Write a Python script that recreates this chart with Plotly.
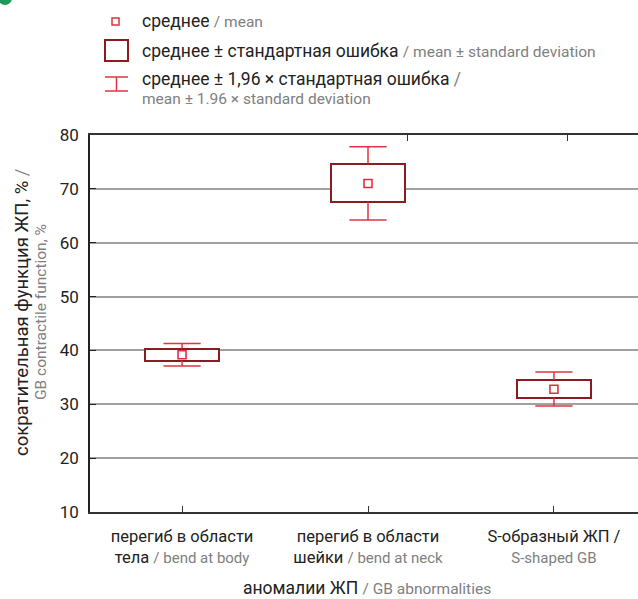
import plotly.graph_objects as go

# ---- data ----
categories = ["тела", "шейки", "S"]
tick_line1 = ["перегиб в области", "перегиб в области", "S-образный ЖП /"]
tick_line2_ru = ["тела", "шейки", ""]
tick_line2_en = ["/ bend at body", "/ bend at neck", "S-shaped GB"]
means = [39.2, 71.0, 32.8]
se_low = [38.1, 67.6, 31.2]
se_high = [40.3, 74.6, 34.5]
ci_low = [37.1, 64.2, 29.7]
ci_high = [41.3, 77.8, 36.0]

BOX_C = "#8c1a20"
WH_C = "#e0333f"
DARK = "#222222"
GRAY = "#808080"
FONT = "Roboto"

W, H = 638, 599
ML, MR, MT, MB = 90, 0, 135, 87
PW = W - ML - MR
PH = H - MT - MB


def px(x):
    return (x - ML) / PW


def py(y):
    return (H - MB - y) / PH


xs = list(range(len(categories)))
box_w = 0.4
cap_w = 0.2

fig = go.Figure()

# boxes: mean ± SE
fig.add_trace(go.Bar(
    x=xs, base=se_low, y=[h - l for h, l in zip(se_high, se_low)],
    width=box_w, marker=dict(color="white", line=dict(color=BOX_C, width=2)),
    hoverinfo="skip", showlegend=False))

# whiskers: mean ± 1.96 SE
wx, wy = [], []
for i, x in enumerate(xs):
    wx += [x, x, None, x - cap_w / 2, x + cap_w / 2, None]
    wy += [se_high[i], ci_high[i], None, ci_high[i], ci_high[i], None]
    wx += [x, x, None, x - cap_w / 2, x + cap_w / 2, None]
    wy += [se_low[i], ci_low[i], None, ci_low[i], ci_low[i], None]
fig.add_trace(go.Scatter(x=wx, y=wy, mode="lines", line=dict(color=WH_C, width=1.5),
                         hoverinfo="skip", showlegend=False))

# means
fig.add_trace(go.Scatter(x=xs, y=means, mode="markers",
                         marker=dict(symbol="square-open", size=8, color=WH_C,
                                     line=dict(width=1.6, color=WH_C)),
                         showlegend=False))

ticktext = []
for a, b, c in zip(tick_line1, tick_line2_ru, tick_line2_en):
    second = (b + " " if b else "") + f"<span style='color:{GRAY};font-size:15px'>{c}</span>"
    ticktext.append(f"{a}<br>{second}")

fig.update_layout(
    width=W, height=H,
    margin=dict(l=ML, r=MR, t=MT, b=MB),
    plot_bgcolor="white", paper_bgcolor="white",
    font=dict(family=FONT, size=16, color=DARK),
    bargap=0,
    xaxis=dict(range=[-0.495, 2.452], tickvals=xs, ticktext=ticktext,
               showgrid=False, zeroline=False, showline=True, linecolor="#333",
               linewidth=1.5, ticks="inside", ticklen=6, tickcolor="#333",
               tickfont=dict(size=16.5, color=DARK), ticklabelstandoff=8,
               fixedrange=True),
    xaxis2=dict(range=[-0.495, 2.452], overlaying="x", side="top",
                tickvals=[1.215, 2.075], ticks="inside", ticklen=6, tickcolor="#333",
                showticklabels=False, showline=True, linecolor="#333", linewidth=1.5,
                showgrid=False, zeroline=False),
    yaxis=dict(range=[10, 80], dtick=10, showgrid=True, gridcolor="#a0a0a0",
               gridwidth=1.5, zeroline=False, showline=True, linecolor="#222",
               linewidth=1.5, ticks="inside", ticklen=6, tickcolor="#222",
               tickfont=dict(size=17, color=DARK), ticklabelstandoff=6),
)
fig.add_trace(go.Scatter(x=[None], y=[None], xaxis="x2", showlegend=False))

# axis titles
fig.add_annotation(xref="paper", yref="paper", x=px(22), y=py(312), textangle=-90,
                   xanchor="center", yanchor="middle",
                   text="сократительная функция ЖП, % <span style='color:#808080'>/</span>",
                   showarrow=False, font=dict(size=18.5, color=DARK))
fig.add_annotation(xref="paper", yref="paper", x=px(41), y=py(312), textangle=-90,
                   xanchor="center", yanchor="middle",
                   text="GB contractile function, %",
                   showarrow=False, font=dict(size=15.5, color=GRAY))
fig.add_annotation(xref="paper", yref="paper", x=px(367), y=py(588),
                   xanchor="center", yanchor="middle",
                   text=f"аномалии ЖП <span style='color:{GRAY};font-size:15.5px'>/ GB abnormalities</span>",
                   showarrow=False, font=dict(size=17.5, color=DARK))

# ---- legend (drawn manually) ----
fig.add_shape(type="rect", xref="paper", yref="paper",
              x0=px(112), x1=px(119), y0=py(25), y1=py(18),
              line=dict(color=WH_C, width=1.5), fillcolor="white")
fig.add_shape(type="rect", xref="paper", yref="paper",
              x0=px(105), x1=px(128), y0=py(61), y1=py(40),
              line=dict(color=BOX_C, width=2), fillcolor="white")
for (x0, y0, x1, y1) in [(105, 77, 128, 77), (105, 91, 128, 91), (116.5, 77, 116.5, 91)]:
    fig.add_shape(type="line", xref="paper", yref="paper",
                  x0=px(x0), x1=px(x1), y0=py(y0), y1=py(y1),
                  line=dict(color=WH_C, width=1.5))

leg_items = [
    (21, f"среднее <span style='color:{GRAY};font-size:15.5px'>/ mean</span>"),
    (51, f"среднее ± стандартная ошибка <span style='color:{GRAY};font-size:15.5px'>/ mean ± standard deviation</span>"),
    (79, f"среднее ± 1,96 × стандартная ошибка <span style='color:{GRAY}'>/</span>"),
]
for y, t in leg_items:
    fig.add_annotation(xref="paper", yref="paper", x=px(140), y=py(y), xanchor="left",
                       yanchor="middle", text=t, showarrow=False,
                       font=dict(size=17.5, color=DARK))
fig.add_annotation(xref="paper", yref="paper", x=px(140), y=py(99), xanchor="left",
                   yanchor="middle", text="mean ± 1.96 × standard deviation",
                   showarrow=False, font=dict(size=15.5, color=GRAY))

# small green logo fragment at top-left
fig.add_shape(type="circle", xref="paper", yref="paper",
              x0=px(-2), x1=px(12), y0=py(5), y1=py(-9),
              line=dict(width=0), fillcolor="#1f9a5a")

fig.write_html("out.html")
